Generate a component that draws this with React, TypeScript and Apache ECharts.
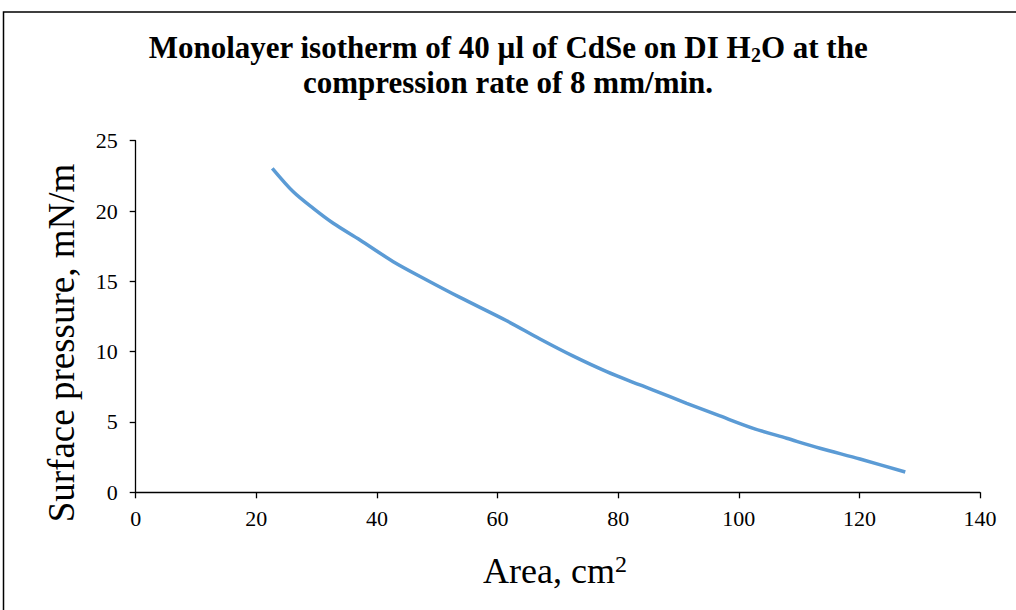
import React, { useEffect, useRef } from "react";
import * as echarts from "echarts";

const areaX = [22.65, 26.13, 29.45, 32.76, 37.19, 42.71, 48.25, 53.77, 61.52, 67.04, 72.56, 78.1, 83.62, 85.82, 91.36, 96.88, 102.4, 107.94, 113.46, 120.1, 127.61];
const pressureY = [23.04, 21.37, 20.19, 19.13, 17.94, 16.4, 15.1, 13.86, 12.2, 10.9, 9.68, 8.58, 7.63, 7.27, 6.33, 5.43, 4.55, 3.84, 3.13, 2.37, 1.44];
const xTicks = { min: 0, max: 140, interval: 20 };
const yTicks = { min: 0, max: 25, interval: 5 };

const FONT = "'Liberation Serif', 'Times New Roman', serif";

export default function App() {
  const ref = useRef<HTMLDivElement>(null);
  useEffect(() => {
    if (!ref.current) return;
    const chart = echarts.init(ref.current, null, { renderer: "svg" });
    const data = areaX.map((x, i) => [x, pressureY[i]]);
    chart.setOption({
      animation: false,
      backgroundColor: "#ffffff",
      title: {
        left: "center",
        top: 25,
        text: "{b|Monolayer isotherm of 40 µl of CdSe on DI H}{s|2}{b|O at the}\n{b|compression rate of 8 mm/min.}",
        textStyle: {
          rich: {
            b: { fontFamily: FONT, fontWeight: "bold", fontSize: 31, color: "#000", lineHeight: 35 },
            s: { fontFamily: FONT, fontWeight: "bold", fontSize: 20, color: "#000", lineHeight: 35, padding: [14, 0, 0, 0] },
          },
        },
      },
      grid: { left: 135.7, right: 36, top: 140.7, bottom: 117.7, containLabel: false },
      xAxis: {
        type: "value",
        min: xTicks.min,
        max: xTicks.max,
        interval: xTicks.interval,
        splitLine: { show: false },
        axisLine: { lineStyle: { color: "#000", width: 1.3 } },
        axisTick: { show: true, inside: false, length: 6, lineStyle: { color: "#000", width: 1.3 } },
        axisLabel: { fontFamily: FONT, fontSize: 22, color: "#000", margin: 15 },
      },
      yAxis: {
        type: "value",
        min: yTicks.min,
        max: yTicks.max,
        interval: yTicks.interval,
        splitLine: { show: false },
        axisLine: { show: true, lineStyle: { color: "#000", width: 1.3 } },
        axisTick: { show: true, inside: false, length: 6, lineStyle: { color: "#000", width: 1.3 } },
        axisLabel: { fontFamily: FONT, fontSize: 22, color: "#000", margin: 18 },
      },
      graphic: [
        {
          type: "rect",
          shape: { x: 3.5, y: 12, width: 1100, height: 700 },
          style: { fill: "none", stroke: "#000", lineWidth: 1.5 },
          silent: true,
        },
        {
          type: "text",
          x: 61,
          y: 343,
          rotation: Math.PI / 2,
          style: {
            text: "Surface pressure, mN/m",
            fontFamily: FONT,
            fontSize: 37,
            fill: "#000",
            align: "center",
            verticalAlign: "middle",
          },
        },
        {
          type: "text",
          x: 555,
          y: 571,
          style: {
            text: "{a|Area, cm}{p|2}",
            align: "center",
            verticalAlign: "middle",
            rich: {
              a: { fontFamily: FONT, fontSize: 36, fill: "#000", lineHeight: 40 },
              p: { fontFamily: FONT, fontSize: 24, fill: "#000", lineHeight: 40, padding: [0, 0, 14, 0] },
            },
          },
        },
      ],
      series: [
        {
          type: "line",
          data,
          showSymbol: false,
          smooth: 0.3,
          lineStyle: { color: "#5B9BD5", width: 3.5 },
          itemStyle: { color: "#5B9BD5" },
        },
      ],
    });
    return () => chart.dispose();
  }, []);
  return <div ref={ref} style={{ position: "absolute", left: 0, top: 0, width: 1016, height: 610 }} />;
}
